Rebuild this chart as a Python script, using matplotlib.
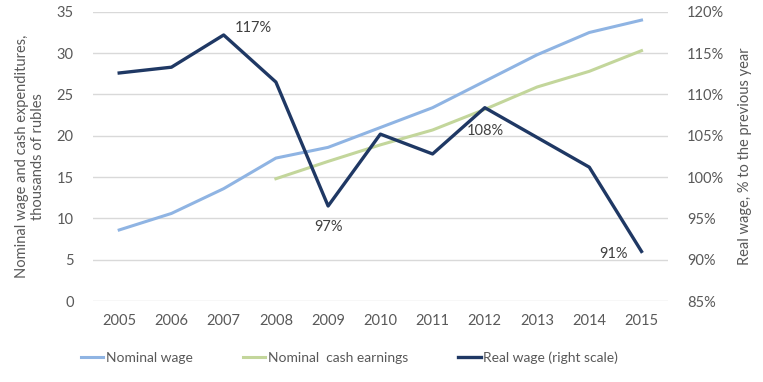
import matplotlib.pyplot as plt
from matplotlib.ticker import FuncFormatter

years = [2005, 2006, 2007, 2008, 2009, 2010, 2011, 2012, 2013, 2014, 2015]
nominal_wage = [8.6, 10.6, 13.6, 17.3, 18.6, 21.0, 23.4, 26.6, 29.8, 32.5, 34.0]
cash_years = [2008, 2009, 2010, 2011, 2012, 2013, 2014, 2015]
cash_earnings = [14.8, 16.9, 18.9, 20.7, 23.2, 25.9, 27.8, 30.3]
real_wage = [112.6, 113.3, 117.2, 111.5, 96.5, 105.2, 102.8, 108.4, 104.8, 101.2, 91.0]

labelled = {2007: "117%", 2009: "97%", 2012: "108%", 2015: "91%"}

plt.rcParams['font.family'] = ['Lato', 'DejaVu Sans']
text_col = '#595959'

fig = plt.figure(figsize=(7.63, 3.82), dpi=100)
ax = fig.add_axes([0.122, 0.212, 0.753, 0.757])
ax2 = ax.twinx()

xi = list(range(len(years)))
cx = [years.index(y) for y in cash_years]

ax.plot(xi, nominal_wage, color='#8FB4E3', lw=2.2, label='Nominal wage')
ax.plot(cx, cash_earnings, color='#C3D69B', lw=2.2, label='Nominal  cash earnings')
ax2.plot(xi, real_wage, color='#1F3864', lw=2.4, label='Real wage (right scale)')

ax.set_xlim(-0.5, len(years) - 0.5)
ax.set_ylim(0, 35)
ax.set_yticks(range(0, 36, 5))
ax2.set_ylim(85, 120)
ax2.set_yticks(range(85, 121, 5))
ax2.yaxis.set_major_formatter(FuncFormatter(lambda v, p: f"{v:.0f}%"))
ax.set_xticks(xi)
ax.set_xticklabels([str(y) for y in years])

ax.grid(axis='y', color='#D9D9D9', lw=1)
ax.set_axisbelow(True)
for a in (ax, ax2):
    for s in a.spines.values():
        s.set_visible(False)
    a.tick_params(length=0, colors=text_col, labelsize=10.5)
ax.tick_params(axis='x', pad=9)
ax.tick_params(axis='y', pad=14)
ax2.tick_params(axis='y', pad=14)

ax.set_ylabel("Nominal wage and cash expenditures,\nthousands of rubles",
              color=text_col, fontsize=10.5, labelpad=8)
ax2.set_ylabel("Real wage, % to the previous year", color=text_col,
               fontsize=10.5, labelpad=10)

offsets = {2007: (8, 5, 'left', 'center'), 2009: (0, -10, 'center', 'top'),
           2012: (0, -12, 'center', 'top'), 2015: (-10, -2, 'right', 'center')}
for yr, txt in labelled.items():
    i = years.index(yr)
    dx, dy, ha, va = offsets[yr]
    ax2.annotate(txt, (i, real_wage[i]), xytext=(dx, dy), textcoords='offset points',
                 ha=ha, va=va, color='#404040', fontsize=10.5)

h1, l1 = ax.get_legend_handles_labels()
h2, l2 = ax2.get_legend_handles_labels()
fig.legend(h1 + h2, l1 + l2, loc='center left', bbox_to_anchor=(0.09, 0.063),
           ncol=3, frameon=False, fontsize=10, labelcolor=text_col,
           handlelength=1.6, handletextpad=0.2, columnspacing=3.6)

fig.savefig('out.png', dpi=100)
